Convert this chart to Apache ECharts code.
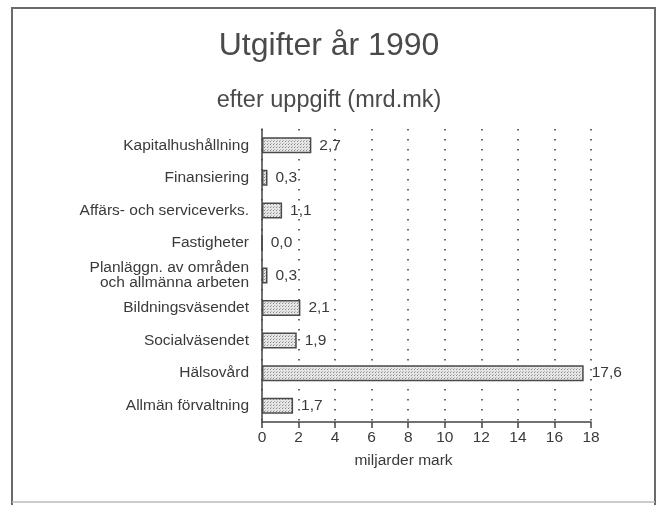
<!DOCTYPE html>
<html>
<head>
<meta charset="utf-8">
<script src="https://cdn.jsdelivr.net/npm/echarts@6/dist/echarts.min.js"></script>
<style>
html,body{margin:0;padding:0;background:#fff;}
#chart{width:658px;height:505px;}
</style>
</head>
<body>
<div id="chart"></div>
<script>
var categories = [
  'Kapitalhushållning',
  'Finansiering',
  'Affärs- och serviceverks.',
  'Fastigheter',
  'Planläggn. av områden\noch allmänna arbeten',
  'Bildningsväsendet',
  'Socialväsendet',
  'Hälsovård',
  'Allmän förvaltning'
];
var values = [2.7, 0.3, 1.1, 0.0, 0.3, 2.1, 1.9, 17.6, 1.7];
var xTicks = [0, 2, 4, 6, 8, 10, 12, 14, 16, 18];
var titleText = 'Utgifter år 1990';
var subtitleText = 'efter uppgift (mrd.mk)';
var xAxisName = 'miljarder mark';

var pat = document.createElement('canvas');
pat.width = 3; pat.height = 3;
var pc = pat.getContext('2d');
pc.fillStyle = '#e6e6e6';
pc.fillRect(0, 0, 3, 3);
pc.fillStyle = '#8a8a8a';
pc.fillRect(0, 0, 1, 1);
pc.fillStyle = '#b4b4b4';
pc.fillRect(1, 2, 1, 1);

var font = '"Liberation Sans", Arial, Helvetica, sans-serif';
var chart = echarts.init(document.getElementById('chart'), null, {renderer: 'canvas'});
chart.setOption({
  animation: false,
  backgroundColor: '#fff',
  textStyle: {fontFamily: font},
  title: [
    {text: titleText, left: 'center', top: 25, textStyle: {fontFamily: font, fontSize: 32, fontWeight: 'normal', color: '#4a4a4a'}},
    {text: subtitleText, left: 'center', top: 84, textStyle: {fontFamily: font, fontSize: 23.5, fontWeight: 'normal', color: '#4a4a4a'}}
  ],
  graphic: [
    {type: 'polyline', shape: {points: [[12, 505], [12, 8], [655, 8], [655, 505]]}, style: {stroke: '#6a6a6a', lineWidth: 2, fill: null}},
    {type: 'line', shape: {x1: 12, y1: 502, x2: 655, y2: 502}, style: {stroke: '#bbbbbb', lineWidth: 1.5}}
  ],
  grid: {left: 262, right: 67, top: 129, bottom: 83, containLabel: false},
  xAxis: {
    type: 'value',
    min: xTicks[0],
    max: xTicks[xTicks.length - 1],
    interval: 2,
    name: xAxisName,
    nameLocation: 'middle',
    nameGap: 31,
    nameTextStyle: {fontFamily: font, fontSize: 15.5, color: '#3a3a3a', padding: [0, 46, 0, 0]},
    axisLine: {show: true, lineStyle: {color: '#444', width: 1.5}},
    axisTick: {show: true, length: 6, lineStyle: {color: '#444', width: 1.5}},
    axisLabel: {fontFamily: font, fontSize: 15.5, color: '#3a3a3a', margin: 8},
    splitLine: {show: true, lineStyle: {color: '#444', width: 1.6, type: [1.6, 8.4]}}
  },
  yAxis: {
    type: 'category',
    inverse: true,
    data: categories,
    axisLine: {show: true, lineStyle: {color: '#444', width: 1.5}},
    axisTick: {show: false},
    axisLabel: {fontFamily: font, fontSize: 15.5, color: '#3a3a3a', margin: 13, lineHeight: 15, align: 'right'}
  },
  series: [{
    type: 'bar',
    data: values,
    barWidth: 16,
    itemStyle: {color: {image: pat, repeat: 'repeat'}, borderColor: '#4a4a4a', borderWidth: 1.5},
    label: {
      show: true,
      position: 'right',
      distance: 8,
      fontFamily: font,
      fontSize: 15.5,
      color: '#3a3a3a',
      formatter: function (p) { return p.value.toFixed(1).replace('.', ','); }
    }
  }]
});
</script>
</body>
</html>
